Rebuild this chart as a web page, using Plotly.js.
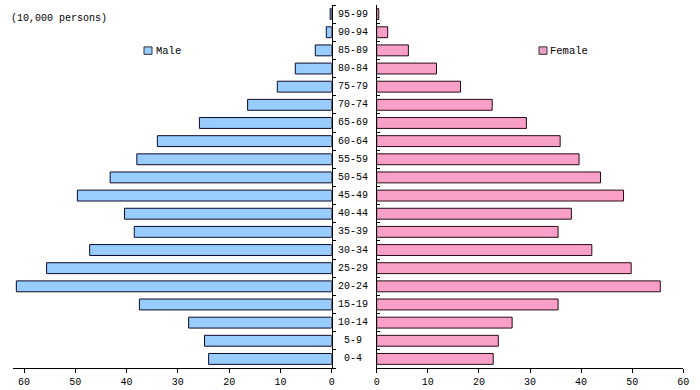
<!DOCTYPE html>
<html>
<head>
<meta charset="utf-8">
<script src="https://cdn.plot.ly/plotly-3.0.1.min.js"></script>
<style>html,body{margin:0;padding:0;background:#fff;}#chart{width:700px;height:390px;}</style>
</head>
<body>
<div id="chart"></div>
<script>
var ageGroups = ["0-4","5-9","10-14","15-19","20-24","25-29","30-34","35-39","40-44","45-49","50-54","55-59","60-64","65-69","70-74","75-79","80-84","85-89","90-94","95-99"];
var male   = [24.0, 24.8, 27.9, 37.5, 61.5, 55.6, 47.2, 38.5, 40.4, 49.6, 43.2, 38.0, 34.0, 25.8, 16.4, 10.6, 7.1, 3.2, 1.05, 0.3];
var female = [22.8, 23.8, 26.5, 35.5, 55.5, 49.8, 42.1, 35.5, 38.1, 48.3, 43.8, 39.6, 35.9, 29.3, 22.6, 16.4, 11.7, 6.2, 2.15, 0.4];
var tickVals = [0, 10, 20, 30, 40, 50, 60];
var tickText = ["0", "10", "20", "30", "40", "50", "60"];
var unitLabel = "(10,000 persons)";
var seriesNames = ["Male", "Female"];

var W = 700, H = 390;
var FONT = "Liberation Mono";
var lineCol = "#000000";

var traces = [
  {type: "bar", orientation: "h", y: ageGroups, x: male, name: seriesNames[0],
   xaxis: "x", yaxis: "y", width: 0.6,
   marker: {color: "#99CCFF", line: {color: "#0a0a28", width: 1}},
   hoverinfo: "x+y", showlegend: false},
  {type: "bar", orientation: "h", y: ageGroups, x: female, name: seriesNames[1],
   xaxis: "x2", yaxis: "y2", width: 0.6,
   marker: {color: "#F9A0C9", line: {color: "#280a14", width: 1}},
   hoverinfo: "x+y", showlegend: false}
];

var annotations = [
  {xref: "paper", yref: "paper", x: 9 / W, y: 1 - 14 / H, yanchor: "middle", xanchor: "left",
   text: unitLabel, showarrow: false, font: {family: FONT, size: 10, color: "#000"}},
  {xref: "paper", yref: "paper", x: 154 / W, y: 1 - 49 / H, yanchor: "middle", xanchor: "left",
   text: seriesNames[0], showarrow: false, font: {family: FONT, size: 10.5, color: "#000"}},
  {xref: "paper", yref: "paper", x: 548 / W, y: 1 - 49 / H, yanchor: "middle", xanchor: "left",
   text: seriesNames[1], showarrow: false, font: {family: FONT, size: 10.5, color: "#000"}}
];
ageGroups.forEach(function (g) {
  annotations.push({xref: "paper", yref: "y2", x: 353 / W, y: g, xanchor: "center", yanchor: "middle",
    text: g, showarrow: false, font: {family: FONT, size: 10, color: "#000"}});
});

var shapes = [
  {type: "rect", xref: "paper", yref: "paper", x0: 144 / W, x1: 152 / W, y0: 1 - 53 / H, y1: 1 - 45 / H,
   fillcolor: "#99CCFF", line: {color: "#333", width: 1}},
  {type: "rect", xref: "paper", yref: "paper", x0: 539 / W, x1: 547 / W, y0: 1 - 53 / H, y1: 1 - 45 / H,
   fillcolor: "#E9A0C0", line: {color: "#333", width: 1}}
];

var commonX = {
  tickvals: tickVals, ticktext: tickText, ticks: "outside", ticklen: 4, tickcolor: lineCol,
  showline: true, linecolor: lineCol, linewidth: 1, showgrid: false, zeroline: false,
  tickfont: {family: FONT, size: 10, color: "#000"}, fixedrange: true
};

var layout = {
  width: W, height: H,
  margin: {l: 0, r: 0, t: 5, b: 22},
  paper_bgcolor: "#fff", plot_bgcolor: "#fff",
  showlegend: false,
  barmode: "overlay",
  xaxis: Object.assign({}, commonX, {domain: [13 / W, 331.7 / W], range: [62.15, 0], anchor: "y"}),
  xaxis2: Object.assign({}, commonX, {domain: [376.7 / W, 683.3 / W], range: [0, 60], anchor: "y2"}),
  yaxis: {type: "category", categoryorder: "array", categoryarray: ageGroups, range: [-0.5, 19.5],
    anchor: "x", side: "right", showline: true, linecolor: lineCol, linewidth: 1,
    ticks: "outside", tickson: "boundaries", ticklen: 3, tickcolor: lineCol,
    showticklabels: false, showgrid: false, zeroline: false, fixedrange: true},
  yaxis2: {type: "category", categoryorder: "array", categoryarray: ageGroups, range: [-0.5, 19.5],
    anchor: "x2", side: "left", showline: true, linecolor: lineCol, linewidth: 1,
    ticks: "inside", tickson: "boundaries", ticklen: 3, tickcolor: lineCol,
    showticklabels: false, showgrid: false, zeroline: false, fixedrange: true},
  annotations: annotations,
  shapes: shapes
};

Plotly.newPlot("chart", traces, layout, {displayModeBar: false, staticPlot: true});
</script>
</body>
</html>
